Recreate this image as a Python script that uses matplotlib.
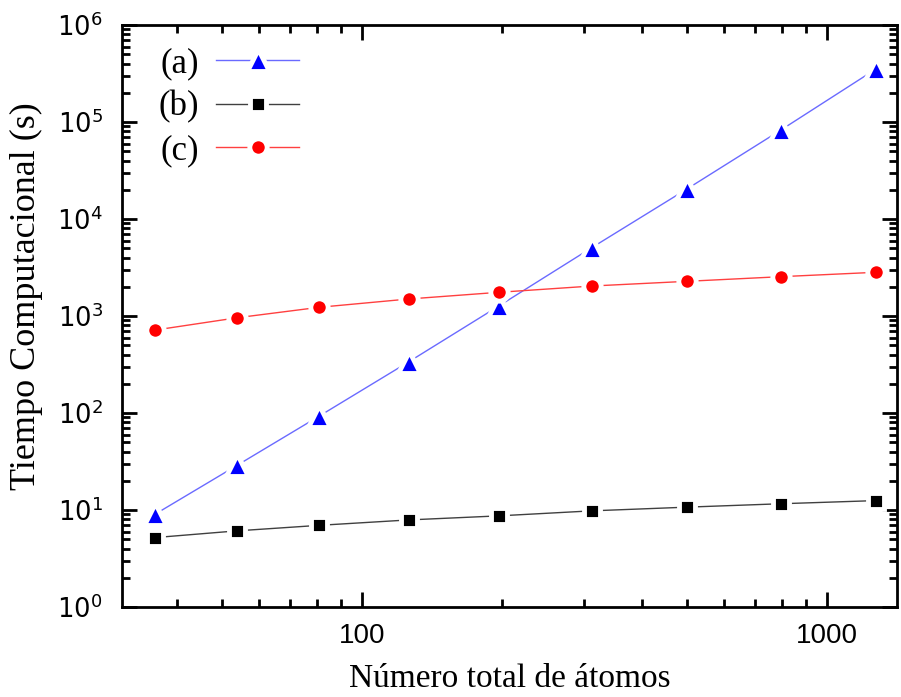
import matplotlib
matplotlib.use("Agg")
import matplotlib.pyplot as plt
from matplotlib.ticker import LogLocator, FixedLocator, FixedFormatter, NullFormatter

plt.rcParams['mathtext.fontset'] = 'custom'
plt.rcParams['mathtext.rm'] = 'Liberation Sans'
plt.rcParams['mathtext.it'] = 'Liberation Sans'
plt.rcParams['mathtext.bf'] = 'Liberation Sans'

atoms = [36, 54, 81, 126, 197, 312, 500, 796, 1274]
time_a = [9.1, 29, 93, 336, 1268, 5060, 20400, 82700, 352000]
time_b = [5.2, 6.1, 6.95, 7.9, 8.7, 9.8, 10.7, 11.6, 12.5]
time_c = [717, 960, 1230, 1497, 1755, 2037, 2278, 2543, 2823]
labels = ["(a)", "(b)", "(c)"]

fig = plt.figure(figsize=(9.01, 6.97), dpi=100)
ax = fig.add_axes([122/901, 1-607/697, (897-122)/901, (607-25)/697])

ax.plot(atoms, time_a, color='#6a6aff', lw=1.0, marker='^', ms=15.5, mfc='#0000ff',
        mec='white', mew=3.5, label=labels[0], zorder=2)
ax.plot(atoms, time_b, color='#404040', lw=1.0, marker='s', ms=11, mfc='black',
        mec='white', mew=3.5, label=labels[1], zorder=2)
ax.plot(atoms, time_c, color='#ff4040', lw=1.0, marker='o', ms=12.5, mfc='#ff0000',
        mec='white', mew=3.5, label=labels[2], zorder=3)

ax.set_xscale('log')
ax.set_yscale('log')
ax.set_xlim(30.5, 1414)
ax.set_ylim(1, 1e6)

ax.xaxis.set_major_locator(FixedLocator([100, 1000]))
ax.xaxis.set_major_formatter(FixedFormatter(["100", "1000"]))
ax.xaxis.set_minor_locator(LogLocator(base=10, subs=range(2, 10), numticks=20))
ax.xaxis.set_minor_formatter(NullFormatter())
ax.yaxis.set_major_locator(LogLocator(base=10, numticks=10))
ax.yaxis.set_minor_locator(LogLocator(base=10, subs=range(2, 10), numticks=20))
ax.yaxis.set_minor_formatter(NullFormatter())

for s in ax.spines.values():
    s.set_linewidth(2)
ax.tick_params(which='both', direction='in', top=True, right=True, width=2)
ax.tick_params(which='major', length=11)
ax.tick_params(which='minor', length=5.5)
ax.tick_params(axis='x', which='major', labelsize=20, pad=11.5)
ax.tick_params(axis='y', which='major', labelsize=18.5, pad=14)
for lab in ax.get_xticklabels():
    lab.set_fontfamily('Liberation Sans')

ax.set_xlabel("Número total de átomos", fontfamily='Liberation Serif', fontsize=24)
ax.set_ylabel("Tiempo Computacional (s)", fontfamily='Liberation Serif', fontsize=26)
ax.xaxis.set_label_coords(0.5, -0.097)
ax.yaxis.set_label_coords(-0.102, 0.534)

leg = ax.legend(loc='upper left', frameon=False, markerfirst=False,
                prop={'family': 'Liberation Serif', 'size': 25},
                handlelength=2.4, labelspacing=0.3, handletextpad=0.5,
                borderpad=0, borderaxespad=0,
                bbox_to_anchor=(0.0465, 0.962))

fig.savefig("out.png", dpi=100)
